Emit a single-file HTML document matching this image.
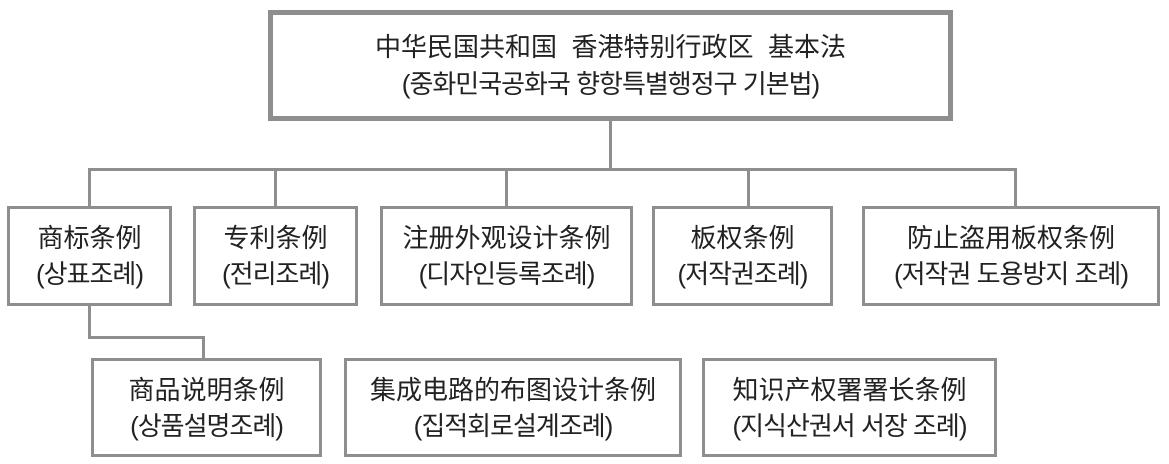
<!DOCTYPE html>
<html><head><meta charset="utf-8"><style>
body{margin:0;width:1169px;height:464px;background:#fff;position:relative;overflow:hidden;font-family:"Liberation Sans","Noto Sans CJK SC","Noto Sans CJK KR",sans-serif;color:#222}
.b{position:absolute;box-sizing:border-box;border:3px solid #8e8e8e;background:#fff;display:flex;flex-direction:column;align-items:center;justify-content:center;font-size:26px;line-height:36px;text-align:center;white-space:nowrap}
.b div:nth-child(2){font-size:26px;letter-spacing:-1px}
.l{position:absolute;background:#8e8e8e}
</style></head><body>
<div class="l" style="left:609px;top:118px;width:3px;height:53px"></div>
<div class="l" style="left:88px;top:168px;width:929px;height:3px"></div>
<div class="l" style="left:88px;top:168px;width:3px;height:40px"></div>
<div class="l" style="left:274px;top:168px;width:3px;height:40px"></div>
<div class="l" style="left:505px;top:168px;width:3px;height:40px"></div>
<div class="l" style="left:747px;top:168px;width:3px;height:40px"></div>
<div class="l" style="left:1014px;top:168px;width:3px;height:40px"></div>
<div class="l" style="left:88px;top:303px;width:3px;height:36px"></div>
<div class="l" style="left:88px;top:336px;width:117px;height:3px"></div>
<div class="l" style="left:202px;top:336px;width:3px;height:24px"></div>

<div class="b" style="left:268px;top:10px;width:685px;height:111px;border-width:5px;line-height:37px"><div>中华民国共和国&nbsp; 香港特别行政区&nbsp; 基本法</div><div>(중화민국공화국 향항특별행정구 기본법)</div></div>

<div class="b" style="left:7px;top:206px;width:165px;height:100px"><div>商标条例</div><div>(상표조례)</div></div>
<div class="b" style="left:193px;top:206px;width:165px;height:100px"><div>专利条例</div><div>(전리조례)</div></div>
<div class="b" style="left:380px;top:206px;width:253px;height:100px"><div>注册外观设计条例</div><div>(디자인등록조례)</div></div>
<div class="b" style="left:652px;top:206px;width:181px;height:100px"><div>板权条例</div><div>(저작권조례)</div></div>
<div class="b" style="left:862px;top:206px;width:298px;height:100px"><div>防止盗用板权条例</div><div>(저작권 도용방지 조례)</div></div>

<div class="b" style="left:91px;top:358px;width:231px;height:99px"><div>商品说明条例</div><div>(상품설명조례)</div></div>
<div class="b" style="left:344px;top:358px;width:338px;height:99px"><div>集成电路的布图设计条例</div><div>(집적회로설계조례)</div></div>
<div class="b" style="left:702px;top:358px;width:295px;height:99px"><div>知识产权署署长条例</div><div>(지식산권서 서장 조례)</div></div>
</body></html>
